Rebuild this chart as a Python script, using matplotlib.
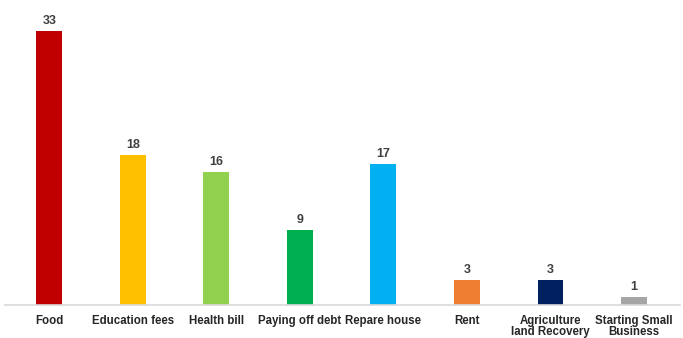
import matplotlib
matplotlib.use("Agg")
import matplotlib.pyplot as plt

categories = [
    "Food",
    "Education fees",
    "Health bill",
    "Paying off debt",
    "Repare house",
    "Rent",
    "Agriculture\nland Recovery",
    "Starting Small\nBusiness",
]
values = [33, 18, 16, 9, 17, 3, 3, 1]
colors = ["#C00000", "#FFC000", "#92D050", "#00B050", "#00B0F0", "#ED7D31", "#002060", "#A5A5A5"]

plt.rcParams["font.family"] = ["Liberation Sans", "DejaVu Sans"]

fig = plt.figure(figsize=(6.83, 3.38), dpi=100)
ax = fig.add_axes([5 / 683, 33 / 338, 675 / 683, 295 / 338])

x = range(len(categories))
bars = ax.bar(x, values, width=0.31, color=colors)

for xi, v in zip(x, values):
    ax.annotate(str(v), (xi, v), xytext=(0, 3), textcoords="offset points",
                ha="center", va="bottom", fontsize=9, fontweight="bold", color="#404040")

ax.set_xlim(-0.53, 7.55)
ax.set_ylim(0, 35.5)
ax.set_xticks(list(x))
ax.set_xticklabels(categories, fontsize=8.3, fontweight="bold", color="#262626",
                   linespacing=0.95)
ax.tick_params(axis="x", length=0, pad=7)
ax.set_yticks([])
for s in ["top", "right", "left"]:
    ax.spines[s].set_visible(False)
ax.spines["bottom"].set_color("#D9D9D9")
ax.spines["bottom"].set_linewidth(1.2)

fig.savefig("out.png", dpi=100)
